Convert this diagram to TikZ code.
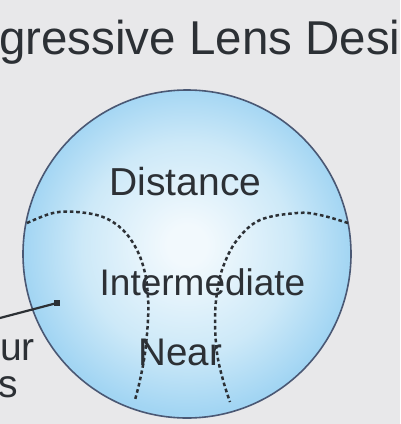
\documentclass[tikz,border=0pt]{standalone}
\usepackage{fontspec}
\setmainfont{Liberation Sans}
\definecolor{bg}{HTML}{E8E8EA}
\definecolor{lensin}{HTML}{F2F9FD}
\definecolor{lensmid}{HTML}{CDE9F8}
\definecolor{lensout}{HTML}{A2D5F3}
\definecolor{rim}{HTML}{4A5874}
\definecolor{ink}{HTML}{2C3035}
\pgfdeclareradialshading{lens}{\pgfpoint{0bp}{1.5bp}}{color(0bp)=(lensin); color(3bp)=(lensin); color(16bp)=(lensmid); color(25bp)=(lensout); color(50bp)=(lensout)}
\begin{document}
\begin{tikzpicture}[x=1pt,y=-1pt,
  lbl/.style={inner sep=0pt, text=ink, anchor=base},
  zoneline/.style={draw=ink, line width=2.5pt, dash pattern=on 3.6pt off 2.8pt},
  rimline/.style={draw=rim, line width=1.6pt}]
\useasboundingbox (0,0) rectangle (400,424);
\fill[bg] (0,0) rectangle (400,424);
% title
\node[lbl, anchor=base west, font=\fontsize{47.5}{47.5}\selectfont] (title) at (-1,54) {gressive Lens Desi};
% lens
\coordinate (c) at (187,254);
\shade[shading=lens] (c) circle[radius=164];
\draw[rimline] (c) circle[radius=164];
% zone boundaries
\draw[zoneline] plot[smooth, tension=0.6] coordinates {(27,223) (53,213) (77,212) (103,217) (123,230) (137,250) (145,273) (148,297) (148,320) (145,353) (140,380) (135,400)};
\draw[zoneline] plot[smooth, tension=0.6] coordinates {(348,223) (320,215) (297,213) (260,220) (237,240) (223,267) (217,293) (215,320) (217,353) (223,380) (230,402)};
% labels
\node[lbl, font=\fontsize{39}{39}\selectfont] (dist) at (185.5,195) {Distance};
\node[lbl, font=\fontsize{37}{37}\selectfont] (inter) at (202.5,295) {Intermediate};
\node[lbl, font=\fontsize{38.5}{38.5}\selectfont] (near) at (180.5,365) {Near};
% side labels
\node[lbl, anchor=base east, font=\fontsize{39}{39}\selectfont] (ur) at (35,360) {ur};
\node[lbl, anchor=base east, font=\fontsize{39}{39}\selectfont] (es) at (18,397) {es};
% pointer
\coordinate (pstart) at (-2,318.5);
\node[fill=ink, minimum size=6pt, inner sep=0pt] (dot) at (57,303) {};
\draw[draw=ink, line width=2.2pt] (pstart) -- (dot.center);
\end{tikzpicture}
\end{document}
